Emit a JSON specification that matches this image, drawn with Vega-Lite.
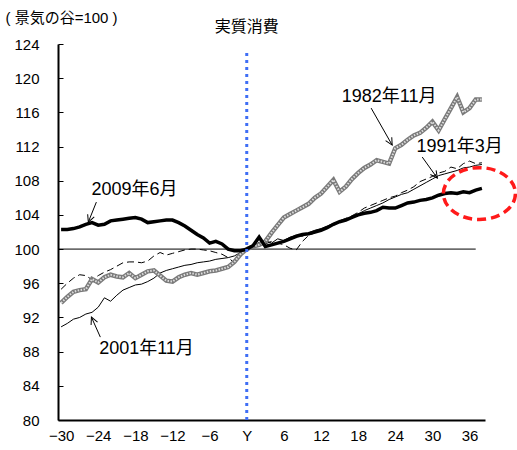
{
  "$schema": "https://vega.github.io/schema/vega-lite/v6.json",
  "width": 427,
  "height": 376,
  "autosize": {"type": "none"},
  "padding": {"left": 58, "top": 44, "right": 32, "bottom": 30},
  "config": {"view": {"stroke": null}, "font": "Liberation Sans, Noto Sans CJK JP"},
  "datasets": {
    "s09": [
      {"x":-30,"v":102.3},{"x":-29,"v":102.3},{"x":-28,"v":102.4},{"x":-27,"v":102.6},{"x":-26,"v":102.9},{"x":-25,"v":103.1},{"x":-24,"v":102.8},{"x":-23,"v":102.9},{"x":-22,"v":103.3},{"x":-21,"v":103.4},{"x":-20,"v":103.5},{"x":-19,"v":103.6},{"x":-18,"v":103.7},{"x":-17,"v":103.5},{"x":-16,"v":103.1},{"x":-15,"v":103.2},{"x":-14,"v":103.3},{"x":-13,"v":103.4},{"x":-12,"v":103.4},{"x":-11,"v":103.1},{"x":-10,"v":102.7},{"x":-9,"v":102.2},{"x":-8,"v":101.7},{"x":-7,"v":101.3},{"x":-6,"v":100.7},{"x":-5,"v":100.9},{"x":-4,"v":100.6},{"x":-3,"v":100.0},{"x":-2,"v":99.8},{"x":-1,"v":99.8},{"x":0,"v":100.0},{"x":1,"v":100.4},{"x":2,"v":101.4},{"x":3,"v":100.3},{"x":4,"v":100.5},{"x":5,"v":100.7},{"x":6,"v":100.9},{"x":7,"v":101.2},{"x":8,"v":101.5},{"x":9,"v":101.7},{"x":10,"v":101.8},{"x":11,"v":102.0},{"x":12,"v":102.2},{"x":13,"v":102.5},{"x":14,"v":102.9},{"x":15,"v":103.2},{"x":16,"v":103.4},{"x":17,"v":103.7},{"x":18,"v":104.0},{"x":19,"v":104.2},{"x":20,"v":104.3},{"x":21,"v":104.5},{"x":22,"v":104.9},{"x":23,"v":104.8},{"x":24,"v":104.8},{"x":25,"v":105.1},{"x":26,"v":105.4},{"x":27,"v":105.5},{"x":28,"v":105.7},{"x":29,"v":105.8},{"x":30,"v":106.0},{"x":31,"v":106.3},{"x":32,"v":106.5},{"x":33,"v":106.6},{"x":34,"v":106.5},{"x":35,"v":106.7},{"x":36,"v":106.6},{"x":37,"v":106.9},{"x":38,"v":107.1}
    ],
    "s82": [
      {"x":-30,"v":93.7},{"x":-29,"v":94.4},{"x":-28,"v":95.0},{"x":-27,"v":95.2},{"x":-26,"v":95.3},{"x":-25,"v":96.5},{"x":-24,"v":96.1},{"x":-23,"v":96.7},{"x":-22,"v":97.0},{"x":-21,"v":96.8},{"x":-20,"v":96.7},{"x":-19,"v":97.2},{"x":-18,"v":96.6},{"x":-17,"v":97.0},{"x":-16,"v":97.4},{"x":-15,"v":97.5},{"x":-14,"v":96.9},{"x":-13,"v":96.3},{"x":-12,"v":96.2},{"x":-11,"v":96.7},{"x":-10,"v":97.0},{"x":-9,"v":97.2},{"x":-8,"v":97.0},{"x":-7,"v":97.2},{"x":-6,"v":97.4},{"x":-5,"v":97.5},{"x":-4,"v":97.7},{"x":-3,"v":97.9},{"x":-2,"v":98.5},{"x":-1,"v":99.4},{"x":0,"v":100.0},{"x":1,"v":100.3},{"x":2,"v":100.5},{"x":3,"v":100.9},{"x":4,"v":101.9},{"x":5,"v":102.8},{"x":6,"v":103.7},{"x":7,"v":104.1},{"x":8,"v":104.5},{"x":9,"v":104.9},{"x":10,"v":105.3},{"x":11,"v":106.0},{"x":12,"v":106.5},{"x":13,"v":107.3},{"x":14,"v":108.1},{"x":15,"v":106.7},{"x":16,"v":107.3},{"x":17,"v":108.2},{"x":18,"v":108.9},{"x":19,"v":109.5},{"x":20,"v":109.9},{"x":21,"v":110.4},{"x":22,"v":110.2},{"x":23,"v":110.0},{"x":24,"v":111.8},{"x":25,"v":112.2},{"x":26,"v":112.8},{"x":27,"v":113.3},{"x":28,"v":113.6},{"x":29,"v":114.2},{"x":30,"v":114.9},{"x":31,"v":113.9},{"x":32,"v":115.2},{"x":33,"v":116.5},{"x":34,"v":117.8},{"x":35,"v":116.0},{"x":36,"v":116.5},{"x":37,"v":117.5},{"x":38,"v":117.5}
    ],
    "s91": [
      {"x":-30,"v":95.3},{"x":-29,"v":96.0},{"x":-28,"v":96.6},{"x":-27,"v":97.0},{"x":-26,"v":96.9},{"x":-25,"v":96.4},{"x":-24,"v":96.9},{"x":-23,"v":97.3},{"x":-22,"v":97.6},{"x":-21,"v":98.0},{"x":-20,"v":98.4},{"x":-19,"v":98.5},{"x":-18,"v":98.5},{"x":-17,"v":98.4},{"x":-16,"v":98.6},{"x":-15,"v":99.2},{"x":-14,"v":99.6},{"x":-13,"v":99.3},{"x":-12,"v":99.5},{"x":-11,"v":99.7},{"x":-10,"v":99.9},{"x":-9,"v":100.0},{"x":-8,"v":100.0},{"x":-7,"v":99.9},{"x":-6,"v":99.8},{"x":-5,"v":99.6},{"x":-4,"v":99.4},{"x":-3,"v":99.0},{"x":-2,"v":98.4},{"x":-1,"v":99.3},{"x":0,"v":100.0},{"x":1,"v":100.3},{"x":2,"v":100.8},{"x":3,"v":100.6},{"x":4,"v":100.9},{"x":5,"v":100.7},{"x":6,"v":100.5},{"x":7,"v":100.1},{"x":8,"v":99.9},{"x":9,"v":100.9},{"x":10,"v":101.6},{"x":11,"v":101.9},{"x":12,"v":102.2},{"x":13,"v":102.5},{"x":14,"v":102.9},{"x":15,"v":103.3},{"x":16,"v":103.6},{"x":17,"v":103.9},{"x":18,"v":104.3},{"x":19,"v":104.8},{"x":20,"v":105.1},{"x":21,"v":105.4},{"x":22,"v":105.7},{"x":23,"v":106.0},{"x":24,"v":106.2},{"x":25,"v":106.6},{"x":26,"v":106.9},{"x":27,"v":107.3},{"x":28,"v":107.9},{"x":29,"v":108.2},{"x":30,"v":108.5},{"x":31,"v":108.9},{"x":32,"v":109.1},{"x":33,"v":109.6},{"x":34,"v":109.4},{"x":35,"v":110.0},{"x":36,"v":110.3},{"x":37,"v":110.0},{"x":38,"v":110.1}
    ],
    "s01": [
      {"x":-30,"v":90.9},{"x":-29,"v":91.3},{"x":-28,"v":91.8},{"x":-27,"v":92.0},{"x":-26,"v":92.4},{"x":-25,"v":92.6},{"x":-24,"v":93.2},{"x":-23,"v":94.3},{"x":-22,"v":93.9},{"x":-21,"v":94.6},{"x":-20,"v":95.2},{"x":-19,"v":95.5},{"x":-18,"v":95.8},{"x":-17,"v":95.9},{"x":-16,"v":96.2},{"x":-15,"v":96.6},{"x":-14,"v":97.2},{"x":-13,"v":97.5},{"x":-12,"v":97.7},{"x":-11,"v":97.9},{"x":-10,"v":98.1},{"x":-9,"v":98.2},{"x":-8,"v":98.4},{"x":-7,"v":98.5},{"x":-6,"v":98.6},{"x":-5,"v":98.8},{"x":-4,"v":98.9},{"x":-3,"v":99.0},{"x":-2,"v":99.2},{"x":-1,"v":99.6},{"x":0,"v":100.0},{"x":1,"v":100.4},{"x":2,"v":100.6},{"x":3,"v":101.0},{"x":4,"v":100.7},{"x":5,"v":101.2},{"x":6,"v":101.0},{"x":7,"v":101.4},{"x":8,"v":101.6},{"x":9,"v":101.5},{"x":10,"v":101.9},{"x":11,"v":102.2},{"x":12,"v":102.4},{"x":13,"v":102.7},{"x":14,"v":103.0},{"x":15,"v":103.2},{"x":16,"v":103.5},{"x":17,"v":103.8},{"x":18,"v":104.1},{"x":19,"v":104.5},{"x":20,"v":104.8},{"x":21,"v":105.1},{"x":22,"v":105.4},{"x":23,"v":105.8},{"x":24,"v":106.1},{"x":25,"v":106.4},{"x":26,"v":106.6},{"x":27,"v":107.0},{"x":28,"v":107.4},{"x":29,"v":107.8},{"x":30,"v":108.2},{"x":31,"v":108.6},{"x":32,"v":108.8},{"x":33,"v":109.0},{"x":34,"v":109.2},{"x":35,"v":109.5},{"x":36,"v":109.6},{"x":37,"v":109.8},{"x":38,"v":109.9}
    ],
    "labels": [
      {"x":-18.15,"v":106.9,"t":"2009年6月"},
      {"x":23.0,"v":117.8,"t":"1982年11月"},
      {"x":34.4,"v":111.9,"t":"1991年3月"},
      {"x":-16.2,"v":88.3,"t":"2001年11月"}
    ],
    "arrows": [
      {"x":-24.3,"v":105.5,"x2":-25.6,"v2":103.16,"ang":201.8},
      {"x":-23.66,"v":89.7,"x2":-25.1,"v2":92.04,"ang":335.8},
      {"x":20.1,"v":116.5,"x2":23.5,"v2":112.17,"ang":150.4},
      {"x":28.36,"v":110.77,"x2":30.8,"v2":108.3,"ang":144.5}
    ]
  },
  "encoding": {
    "x": {
      "field": "x", "type": "quantitative",
      "scale": {"domain": [-30.5, 38.5], "nice": false, "zero": false},
      "axis": {
        "title": null, "grid": false, "ticks": false,
        "values": [-30,-24,-18,-12,-6,0,6,12,18,24,30,36],
        "labelExpr": "datum.value == 0 ? 'Y' : datum.label",
        "domainColor": "black", "domainWidth": 2,
        "labelFontSize": 15, "labelColor": "black", "labelPadding": 8,
        "labelFont": "Liberation Sans"
      }
    },
    "y": {
      "field": "v", "type": "quantitative",
      "scale": {"domain": [80, 124], "nice": false, "zero": false},
      "axis": {
        "title": "( 景気の谷=100 )", "titleAngle": 0, "titleAlign": "left", "titleBaseline": "middle",
        "titleX": -53, "titleY": -27, "titleFontSize": 15, "titleFontWeight": "normal", "titleColor": "black",
        "titleFont": "Liberation Sans, Noto Sans CJK JP",
        "grid": false,
        "values": [80,84,88,92,96,100,104,108,112,116,120,124],
        "tickSize": -5, "tickColor": "black", "tickWidth": 1,
        "labelPadding": 24,
        "domainColor": "black", "domainWidth": 2,
        "labelFontSize": 15, "labelColor": "black", "labelFont": "Liberation Sans"
      }
    }
  },
  "layer": [
    {
      "data": {"values": [{"x": -30.5, "x2": 37, "v": 100}]},
      "mark": {"type": "rule", "color": "black", "strokeWidth": 1},
      "encoding": {"x2": {"field": "x2"}}
    },
    {
      "data": {"name": "s01"},
      "mark": {"type": "line", "color": "black", "strokeWidth": 1}
    },
    {
      "data": {"name": "s91"},
      "mark": {"type": "line", "color": "black", "strokeWidth": 1, "strokeDash": [7, 4]}
    },
    {
      "data": {"name": "s82"},
      "mark": {"type": "line", "color": "#7a7a7a", "strokeWidth": 4.5}
    },
    {
      "data": {"name": "s82"},
      "mark": {"type": "line", "color": "#dddddd", "strokeWidth": 2, "strokeDash": [1.5, 1.5]}
    },
    {
      "data": {"name": "s09"},
      "mark": {"type": "line", "color": "black", "strokeWidth": 3.5}
    },
    {
      "data": {"values": [{"x": 0, "v": 80, "v2": 123.2}]},
      "mark": {"type": "rule", "color": "#3f6ef5", "strokeWidth": 3, "strokeDash": [3, 4]},
      "encoding": {"y2": {"field": "v2"}}
    },
    {
      "data": {"name": "arrows"},
      "mark": {"type": "rule", "color": "black", "strokeWidth": 1},
      "encoding": {"x2": {"field": "x2"}, "y2": {"field": "v2"}}
    },
    {
      "data": {"name": "arrows"},
      "mark": {"type": "point", "shape": "M -0.5 1 L 0 0 L 0.5 1", "filled": false, "stroke": "black", "strokeWidth": 1, "size": 200, "opacity": 1},
      "encoding": {
        "x": {"field": "x2", "type": "quantitative"},
        "y": {"field": "v2", "type": "quantitative"},
        "angle": {"field": "ang", "type": "quantitative", "scale": null}
      }
    },
    {
      "data": {"name": "labels"},
      "mark": {"type": "text", "fontSize": 18, "color": "black", "align": "center", "baseline": "middle", "font": "Liberation Sans, Noto Sans CJK JP"},
      "encoding": {"text": {"field": "t"}}
    },
    {
      "data": {"values": [{"x": 0, "v": 126.0, "t": "実質消費"}]},
      "mark": {"type": "text", "fontSize": 16, "color": "black", "align": "center", "baseline": "middle", "font": "Noto Sans CJK JP"},
      "encoding": {"text": {"field": "t"}}
    },
    {
      "data": {"values": [{"x": 37.6, "v": 106.5}]},
      "mark": {"type": "point", "shape": "M -1 0 A 1 0.72 0 1 1 1 0 A 1 0.72 0 1 1 -1 0 Z", "filled": false, "stroke": "#ff1a1a", "strokeWidth": 3.5, "strokeDash": [9, 5], "size": 5184, "opacity": 1}
    }
  ]
}
